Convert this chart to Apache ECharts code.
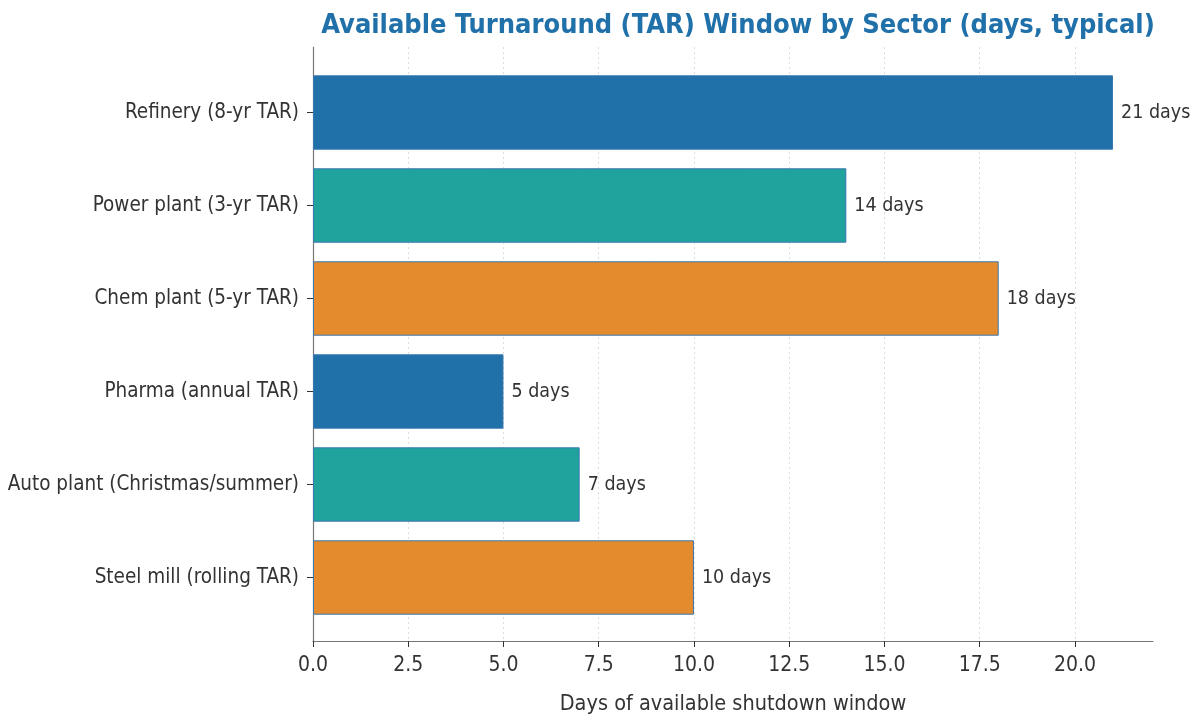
<!DOCTYPE html>
<html>
<head>
<meta charset="utf-8">
<script src="https://cdn.jsdelivr.net/npm/echarts@6/dist/echarts.min.js"></script>
<title>TAR window</title>
<style>html,body{margin:0;background:#fff}#main{width:1199px;height:715px}</style>
</head>
<body>
<div id="main"></div>
<script>
const sectors = ['Refinery (8-yr TAR)', 'Power plant (3-yr TAR)', 'Chem plant (5-yr TAR)',
  'Pharma (annual TAR)', 'Auto plant (Christmas/summer)', 'Steel mill (rolling TAR)'];
const days = [21, 14, 18, 5, 7, 10];
const barColors = ['#2070aa', '#21a39d', '#e48b2e', '#2070aa', '#21a39d', '#e48b2e'];
const xTicks = [0, 2.5, 5, 7.5, 10, 12.5, 15, 17.5, 20];

const font = 'DejaVu Sans Condensed';
const xMax = 22.05;

let chart = echarts.init(document.getElementById('main'));

let option = {
  animation: false,
  title: {
    text: 'Available Turnaround (TAR) Window by Sector (days, typical)',
    left: 733, top: 7, textAlign: 'center',
    textStyle: { fontFamily: font, fontWeight: 'bold', fontSize: 27, color: '#2070aa' }
  },
  grid: [
    { left: 313, right: 46, top: 47, bottom: 74, outerBoundsMode: 'none' },
    { left: 313, right: 46, top: 66, bottom: 91, outerBoundsMode: 'none' }
  ],
  xAxis: [
    {
      gridIndex: 0, type: 'value', min: 0, max: xMax, interval: 2.5,
      name: 'Days of available shutdown window', nameLocation: 'middle', nameGap: 52,
      nameTextStyle: { fontFamily: font, fontSize: 21.5, color: '#333' },
      axisLine: { lineStyle: { color: '#777', width: 1.2 } },
      axisTick: { length: 6, lineStyle: { color: '#333' }, customValues: xTicks },
      axisLabel: { fontFamily: font, fontSize: 21, color: '#333', margin: 14,
        customValues: xTicks, formatter: v => v.toFixed(1) },
      splitLine: { show: true, lineStyle: { color: '#ddd', type: [2, 3] } }
    },
    { gridIndex: 1, type: 'value', min: 0, max: xMax, show: false }
  ],
  yAxis: [
    {
      gridIndex: 0, type: 'value', min: 0, max: 1,
      axisLine: { show: true, lineStyle: { color: '#777', width: 1.2 } },
      axisTick: { show: false }, axisLabel: { show: false }, splitLine: { show: false }
    },
    {
      gridIndex: 1, type: 'category', data: sectors, inverse: true,
      axisLine: { show: false },
      axisTick: { show: true, alignWithLabel: true, length: 6, lineStyle: { color: '#333' } },
      axisLabel: { fontFamily: font, fontSize: 20.5, color: '#333', margin: 14 }
    }
  ],
  series: [{
    type: 'bar', xAxisIndex: 1, yAxisIndex: 1, barWidth: '80%',
    data: days.map((d, i) => ({ value: d, itemStyle: { color: barColors[i] } })),
    itemStyle: { borderColor: '#3a78b0', borderWidth: 1 },
    label: { show: true, position: 'right', distance: 8, formatter: '{c} days',
      fontFamily: font, fontSize: 19.5, color: '#333' }
  }]
};

chart.setOption(option);
</script>
</body>
</html>
